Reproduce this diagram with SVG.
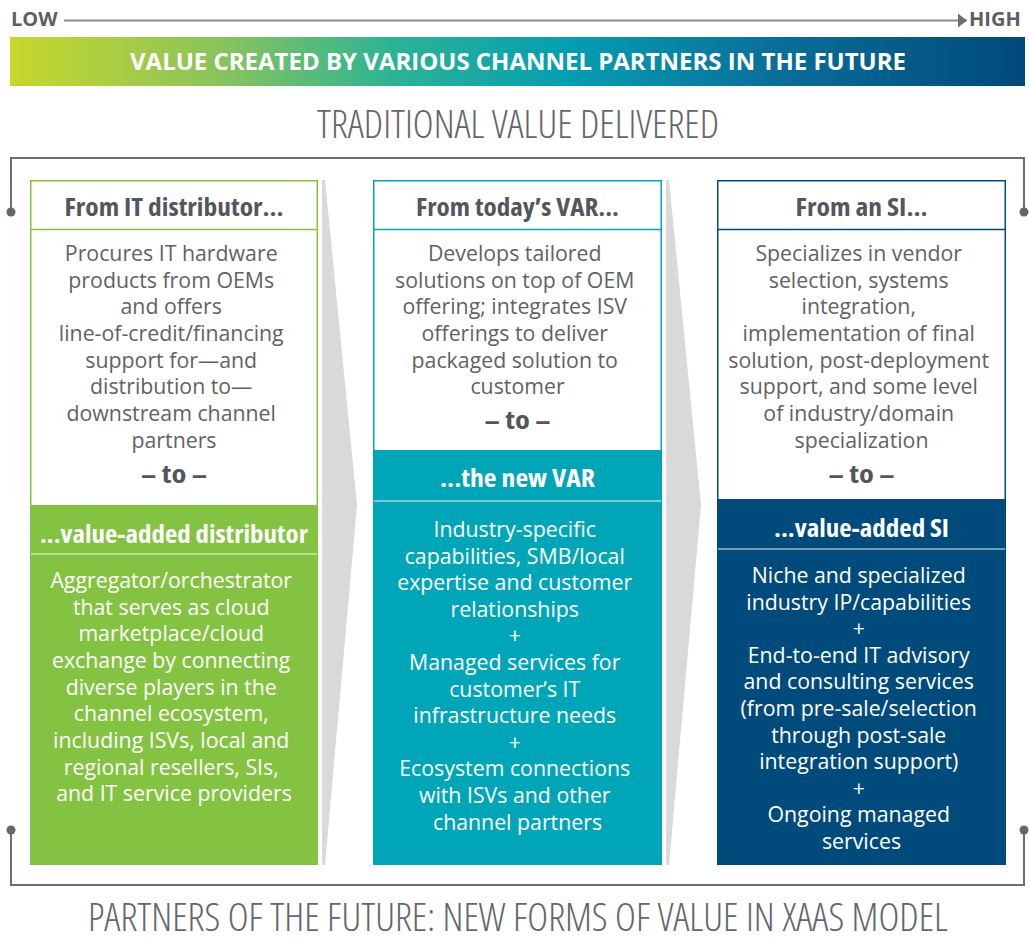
<svg xmlns="http://www.w3.org/2000/svg" width="1029" height="939" viewBox="0 0 1029 939">
  <defs>
    <linearGradient id="barGrad" x1="0" y1="0" x2="1" y2="0">
      <stop offset="0" stop-color="#c8d72b"/>
      <stop offset="0.2" stop-color="#8dc45a"/>
      <stop offset="0.38" stop-color="#2bb395"/>
      <stop offset="0.55" stop-color="#049eb2"/>
      <stop offset="0.75" stop-color="#0a6f9b"/>
      <stop offset="1" stop-color="#00497b"/>
    </linearGradient>
    <marker id="arrowHead" markerWidth="10" markerHeight="14" refX="9" refY="7" orient="auto" markerUnits="userSpaceOnUse">
      <path d="M0,0 L9,7 L0,14 Z" fill="#6b6e72"/>
    </marker>
    <style>
      .axis { font-family: "Open Sans", "Liberation Sans", sans-serif; font-weight: 700; font-size: 20px; fill: #5b5e62; }
      .bartxt { font-family: "Open Sans", "Liberation Sans", sans-serif; font-weight: 700; font-size: 23px; fill: #ffffff; }
      .title { font-family: "Open Sans", "Liberation Sans", sans-serif; font-weight: 300; font-stretch: condensed; font-size: 38px; fill: #63666a; }
      .bracket { fill: none; stroke: #6b6e72; stroke-width: 2; }
      .dot { fill: #63666a; }
      .head { font-family: "Open Sans", "Liberation Sans", sans-serif; font-weight: 700; font-stretch: condensed; font-size: 25px; text-anchor: middle; }
      .body { font-family: "Open Sans", "Liberation Sans", sans-serif; font-size: 21.3px; text-anchor: middle; }
      .dark { fill: #53565a; }
      .grey { fill: #5f6266; }
      .light { fill: #ffffff; }
      .chev { fill: #d9d9d9; }
    </style>
  </defs>

  <!-- low/high scale -->
  <g id="scale">
    <text class="axis" x="11" y="26">LOW</text>
    <line x1="64" y1="20.5" x2="967" y2="20.5" stroke="#8a8c8e" stroke-width="2" marker-end="url(#arrowHead)"/>
    <text class="axis" x="969" y="26">HIGH</text>
  </g>

  <!-- banner -->
  <g id="banner">
    <rect x="10" y="37" width="1015" height="49" fill="url(#barGrad)"/>
    <text class="bartxt" x="518" y="70" text-anchor="middle" textLength="776" lengthAdjust="spacingAndGlyphs">VALUE CREATED BY VARIOUS CHANNEL PARTNERS IN THE FUTURE</text>
  </g>

  <text id="topTitle" class="title" x="518" y="138" text-anchor="middle" textLength="402" lengthAdjust="spacingAndGlyphs">TRADITIONAL VALUE DELIVERED</text>

  <!-- brackets and chevrons -->
  <g id="connectors">
    <path class="bracket" d="M11,212 V158 H1024 V212"/>
    <circle class="dot" cx="11" cy="212" r="4.5"/>
    <circle class="dot" cx="1024" cy="212" r="4.5"/>
    <path class="bracket" d="M11,830 V885 H1024 V830"/>
    <circle class="dot" cx="11" cy="830" r="4.5"/>
    <circle class="dot" cx="1024" cy="830" r="4.5"/>
    <polygon class="chev" points="322,180 325,180 357,505 325,865 322,865"/>
    <polygon class="chev" points="666,180 669,180 701,505 669,865 666,865"/>
  </g>

  <!-- column 1 -->
  <g id="distributor">
    <rect x="30" y="505" width="288" height="360" fill="#84c341"/>
    <rect x="30.75" y="180.75" width="286.5" height="683.5" fill="none" stroke="#84c341" stroke-width="1.5"/>
    <line x1="31" y1="229.5" x2="317" y2="229.5" stroke="#84c341" stroke-width="1.5"/>
    <line x1="31" y1="554" x2="317" y2="554" stroke="#ffffff" stroke-opacity="0.6" stroke-width="1.5"/>
    <text class="head dark" x="174" y="216" textLength="219" lengthAdjust="spacingAndGlyphs">From IT distributor...</text>
    <text class="body grey">
      <tspan x="174" y="261">Procures IT hardware</tspan>
      <tspan x="174" y="287.7">products from OEMs</tspan>
      <tspan x="174" y="314.3">and offers</tspan>
      <tspan x="174" y="341">line-of-credit/financing</tspan>
      <tspan x="174" y="367.7">support for—and</tspan>
      <tspan x="174" y="394.3">distribution to—</tspan>
      <tspan x="174" y="421">downstream channel</tspan>
      <tspan x="174" y="447.7">partners</tspan>
    </text>
    <text class="head dark" x="174" y="483" textLength="66" lengthAdjust="spacingAndGlyphs">– to –</text>
    <text class="head light" x="174" y="543" textLength="268" lengthAdjust="spacingAndGlyphs">...value-added distributor</text>
    <text class="body light">
      <tspan x="174" y="588">Aggregator/orchestrator</tspan>
      <tspan x="174" y="614.7">that serves as cloud</tspan>
      <tspan x="174" y="641.3">marketplace/cloud</tspan>
      <tspan x="174" y="668">exchange by connecting</tspan>
      <tspan x="174" y="694.7">diverse players in the</tspan>
      <tspan x="174" y="721.3">channel ecosystem,</tspan>
      <tspan x="174" y="748">including ISVs, local and</tspan>
      <tspan x="174" y="774.7">regional resellers, SIs,</tspan>
      <tspan x="174" y="801.3">and IT service providers</tspan>
    </text>
  </g>

  <!-- column 2 -->
  <g id="var">
    <rect x="373" y="450" width="289" height="415" fill="#00a6b8"/>
    <rect x="373.75" y="180.75" width="287.5" height="683.5" fill="none" stroke="#00a6b8" stroke-width="1.5"/>
    <line x1="374" y1="229.5" x2="661" y2="229.5" stroke="#00a6b8" stroke-width="1.5"/>
    <line x1="374" y1="501" x2="661" y2="501" stroke="#ffffff" stroke-opacity="0.6" stroke-width="1.5"/>
    <text class="head dark" x="517.5" y="216" textLength="203" lengthAdjust="spacingAndGlyphs">From today’s VAR...</text>
    <text class="body grey">
      <tspan x="517.5" y="261">Develops tailored</tspan>
      <tspan x="517.5" y="287.7">solutions on top of OEM</tspan>
      <tspan x="517.5" y="314.3">offering; integrates ISV</tspan>
      <tspan x="517.5" y="341">offerings to deliver</tspan>
      <tspan x="517.5" y="367.7">packaged solution to</tspan>
      <tspan x="517.5" y="394.3">customer</tspan>
    </text>
    <text class="head dark" x="517.5" y="429" textLength="66" lengthAdjust="spacingAndGlyphs">– to –</text>
    <text class="head light" x="517.5" y="487" textLength="155" lengthAdjust="spacingAndGlyphs">...the new VAR</text>
    <text class="body light">
      <tspan x="517.5" y="537">Industry-specific</tspan>
      <tspan x="517.5" y="563.6">capabilities, SMB/local</tspan>
      <tspan x="517.5" y="590.2">expertise and customer</tspan>
      <tspan x="517.5" y="616.8">relationships</tspan>
      <tspan x="517.5" y="643.4">+</tspan>
      <tspan x="517.5" y="670">Managed services for</tspan>
      <tspan x="517.5" y="696.6">customer’s IT</tspan>
      <tspan x="517.5" y="723.2">infrastructure needs</tspan>
      <tspan x="517.5" y="749.8">+</tspan>
      <tspan x="517.5" y="776.4">Ecosystem connections</tspan>
      <tspan x="517.5" y="803">with ISVs and other</tspan>
      <tspan x="517.5" y="829.6">channel partners</tspan>
    </text>
  </g>

  <!-- column 3 -->
  <g id="si">
    <rect x="717" y="499" width="289" height="366" fill="#004a7c"/>
    <rect x="717.75" y="180.75" width="287.5" height="683.5" fill="none" stroke="#004a7c" stroke-width="1.5"/>
    <line x1="718" y1="229.5" x2="1005" y2="229.5" stroke="#004a7c" stroke-width="1.5"/>
    <line x1="718" y1="549" x2="1005" y2="549" stroke="#ffffff" stroke-opacity="0.6" stroke-width="1.5"/>
    <text class="head dark" x="861.5" y="216" textLength="132" lengthAdjust="spacingAndGlyphs">From an SI...</text>
    <text class="body grey">
      <tspan x="861.5" y="261">Specializes in vendor</tspan>
      <tspan x="861.5" y="287.7">selection, systems</tspan>
      <tspan x="861.5" y="314.3">integration,</tspan>
      <tspan x="861.5" y="341">implementation of final</tspan>
      <tspan x="861.5" y="367.7">solution, post-deployment</tspan>
      <tspan x="861.5" y="394.3">support, and some level</tspan>
      <tspan x="861.5" y="421">of industry/domain</tspan>
      <tspan x="861.5" y="447.7">specialization</tspan>
    </text>
    <text class="head dark" x="861.5" y="483" textLength="66" lengthAdjust="spacingAndGlyphs">– to –</text>
    <text class="head light" x="861.5" y="537" textLength="175" lengthAdjust="spacingAndGlyphs">...value-added SI</text>
    <text class="body light">
      <tspan x="861.5" y="583">Niche and specialized</tspan>
      <tspan x="861.5" y="609.6">industry IP/capabilities</tspan>
      <tspan x="861.5" y="636.2">+</tspan>
      <tspan x="861.5" y="662.8">End-to-end IT advisory</tspan>
      <tspan x="861.5" y="689.4">and consulting services</tspan>
      <tspan x="861.5" y="716">(from pre-sale/selection</tspan>
      <tspan x="861.5" y="742.6">through post-sale</tspan>
      <tspan x="861.5" y="769.2">integration support)</tspan>
      <tspan x="861.5" y="795.8">+</tspan>
      <tspan x="861.5" y="822.4">Ongoing managed</tspan>
      <tspan x="861.5" y="849">services</tspan>
    </text>
  </g>

  <text id="bottomTitle" class="title" x="518" y="931" text-anchor="middle" textLength="860" lengthAdjust="spacingAndGlyphs">PARTNERS OF THE FUTURE: NEW FORMS OF VALUE IN XAAS MODEL</text>
</svg>
